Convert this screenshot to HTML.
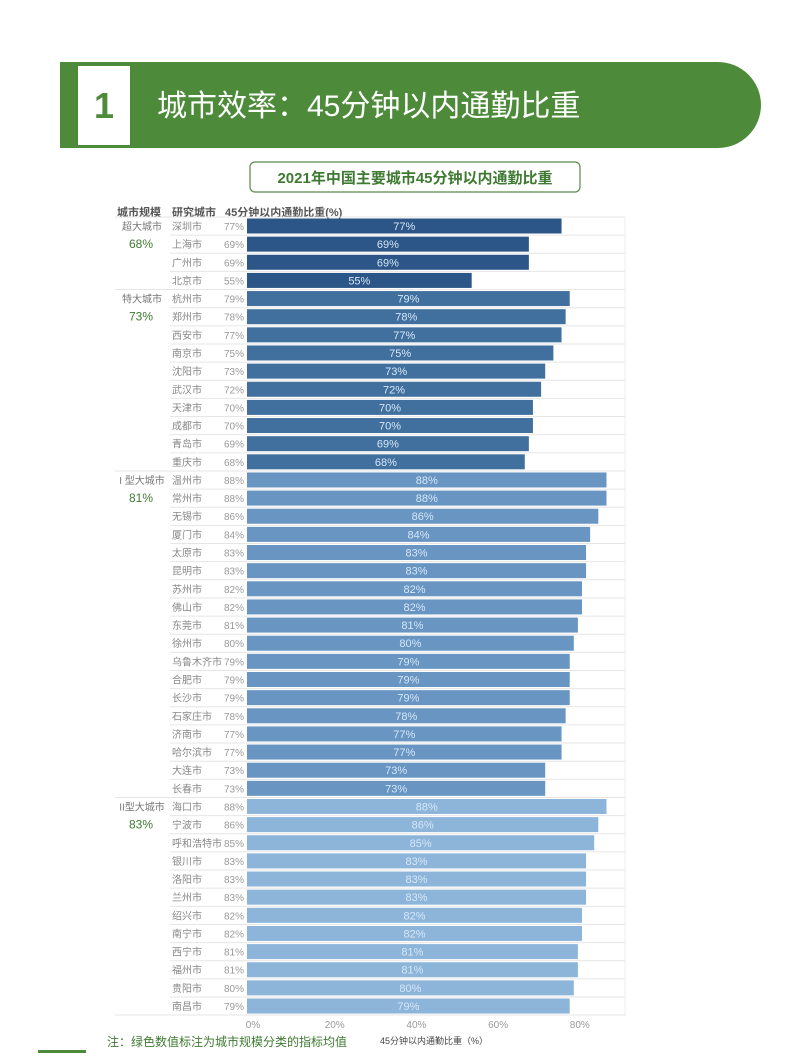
<!DOCTYPE html>
<html><head><meta charset="utf-8">
<style>
body{margin:0;background:#fff;width:793px;height:1053px;overflow:hidden;font-family:"Liberation Sans","Noto Sans CJK SC",sans-serif;}
svg text{font-family:"Liberation Sans","Noto Sans CJK SC",sans-serif;}
</style></head><body>
<svg width="793" height="1053" viewBox="0 0 793 1053" xmlns="http://www.w3.org/2000/svg" id="chart">
<path d="M60 62 H718 A43 43 0 0 1 718 148 H60 Z" fill="#4d8b3a"/>
<rect x="78" y="66" width="52" height="79" fill="#fff"/>
<text x="104" y="118" font-size="36" font-weight="bold" fill="#4d8b3a" text-anchor="middle">1</text>
<text x="157" y="116" font-size="30" fill="#fff">城市效率：45分钟以内通勤比重</text>
<rect x="250" y="162" width="330" height="30" rx="5" fill="#fff" stroke="#5a8a4a" stroke-width="1.2"/>
<text x="415" y="183" font-size="15" font-weight="bold" fill="#3f7a32" text-anchor="middle">2021年中国主要城市45分钟以内通勤比重</text>
<text x="117" y="216" font-size="11" font-weight="bold" fill="#555">城市规模</text>
<text x="172" y="216" font-size="11" font-weight="bold" fill="#555">研究城市</text>
<text x="225" y="216" font-size="11" font-weight="bold" fill="#555">45分钟以内通勤比重(%)</text>
<line x1="625" y1="218" x2="625" y2="1016" stroke="#eee"/>
<g id="rows"></g>
<text x="107" y="1046" font-size="12" fill="#3f7a32">注：绿色数值标注为城市规模分类的指标均值</text>
<text x="380" y="1044" font-size="9" fill="#444">45分钟以内通勤比重（%）</text>
<rect x="38" y="1050" width="48" height="3" fill="#4d8b3a"/>
</svg>
<script>
const cities=["深圳市","上海市","广州市","北京市","杭州市","郑州市","西安市","南京市","沈阳市","武汉市","天津市","成都市","青岛市","重庆市","温州市","常州市","无锡市","厦门市","太原市","昆明市","苏州市","佛山市","东莞市","徐州市","乌鲁木齐市","合肥市","长沙市","石家庄市","济南市","哈尔滨市","大连市","长春市","海口市","宁波市","呼和浩特市","银川市","洛阳市","兰州市","绍兴市","南宁市","西宁市","福州市","贵阳市","南昌市"];
const values=[77,69,69,55,79,78,77,75,73,72,70,70,69,68,88,88,86,84,83,83,82,82,81,80,79,79,79,78,77,77,73,73,88,86,85,83,83,83,82,82,81,81,80,79];
const groupNames=["超大城市","特大城市","I 型大城市","II型大城市"];
const groupAvgs=["68%","73%","81%","83%"];
const groupSizes=[4,10,18,12];
const ticks=[0,20,40,60,80];
const colors=["#2c5687","#41709f","#6895c2","#8db5da"];
const x0=247,pxPer=4.085,y0=226,step=18.14,bh=15;
const xs=v=>x0+v*pxPer, ys=i=>y0+i*step;
const g=document.getElementById('rows');
const NS="http://www.w3.org/2000/svg";
function mk(t,a,txt){const e=document.createElementNS(NS,t);for(const k in a)e.setAttribute(k,a[k]);if(txt!=null)e.textContent=txt;g.appendChild(e);return e;}
const groupOf=[];
groupSizes.forEach((n,k)=>{for(let j=0;j<n;j++)groupOf.push(k);});
let s=0;
groupSizes.forEach((n,k)=>{
 const y=ys(s);
 let e=mk('text',{x:142,y:y+4,'font-size':10,fill:'#777','text-anchor':'middle'},groupNames[k]);
 
 
 e=mk('text',{x:141,y:y+22,'font-size':12,fill:'#3f7a32','text-anchor':'middle'},groupAvgs[k]);
 
 
 s+=n;
});
values.forEach((v,i)=>{
 const y=ys(i);
 let l=mk('line',{x1:i===0?115:(groupOf[i]!==groupOf[i-1]?115:170),x2:625,y1:y-9,y2:y-9,stroke:'#e6e6e6'});
 
 
 let e=mk('text',{x:172,y:y+4,'font-size':10,fill:'#888'},cities[i]);
 
 
 e=mk('text',{x:224,y:y+4,'font-size':10,fill:'#999'},v+'%');
 
 
 e=mk('rect',{x:x0,y:y-bh/2,width:xs(v)-x0,height:bh,fill:colors[groupOf[i]]});
 
 
 e=mk('text',{x:(x0+xs(v))/2,y:y+4,'font-size':11,fill:'#d6e7f7','text-anchor':'middle'},v+'%');
 
 
});
let bl=mk('line',{x1:115,x2:625,y1:ys(values.length-1)+9,y2:ys(values.length-1)+9,stroke:'#e6e6e6'});


ticks.forEach(t=>{
 const e=mk('text',{x:xs(t)+6,y:1028,'font-size':10,fill:'#999','text-anchor':'middle'},t+'%');
 
 
});
</script>
</body></html>
